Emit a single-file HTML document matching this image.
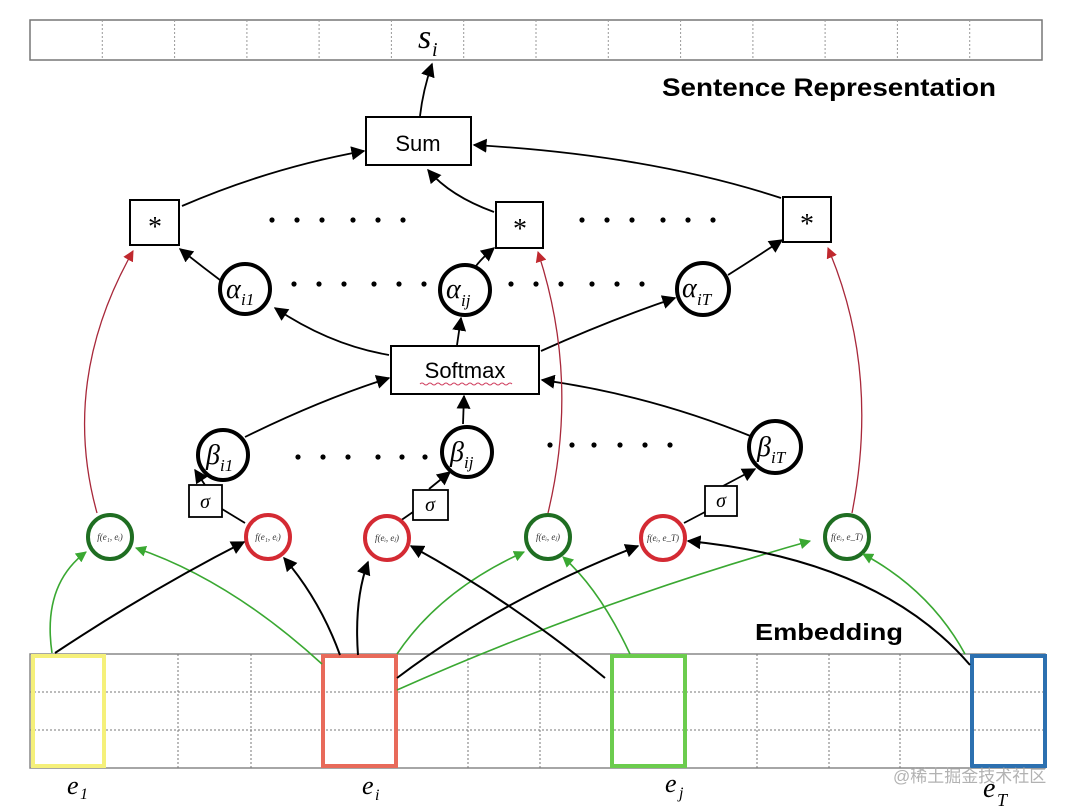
<!DOCTYPE html>
<html><head><meta charset="utf-8"><style>
html,body{margin:0;padding:0;background:#fff;}
svg{display:block;}
.m{font-family:"Liberation Serif",serif;font-style:italic;}
.s{font-family:"Liberation Sans",sans-serif;}
</style></head><body>
<svg width="1080" height="807" viewBox="0 0 1080 807" xmlns="http://www.w3.org/2000/svg">
<defs>
<marker id="abk" viewBox="0 0 10 10" refX="9" refY="5" markerWidth="14" markerHeight="14" orient="auto" markerUnits="userSpaceOnUse"><path d="M0,0 L10,5 L0,10 z" fill="#000"/></marker>
<marker id="ag" viewBox="0 0 10 10" refX="9" refY="5" markerWidth="11" markerHeight="11" orient="auto" markerUnits="userSpaceOnUse"><path d="M0,0 L10,5 L0,10 z" fill="#3aa832"/></marker>
<marker id="ar" viewBox="0 0 10 10" refX="9" refY="5" markerWidth="11" markerHeight="11" orient="auto" markerUnits="userSpaceOnUse"><path d="M0,0 L10,5 L0,10 z" fill="#c0282e"/></marker>
</defs>

<!-- top bar -->
<rect x="30" y="20" width="1012" height="40" fill="#fff" stroke="#777" stroke-width="1.5"/>
<g stroke="#999" stroke-dasharray="2,2" stroke-width="1">
<line x1="102.3" y1="20" x2="102.3" y2="60"/><line x1="174.6" y1="20" x2="174.6" y2="60"/><line x1="246.9" y1="20" x2="246.9" y2="60"/><line x1="319.1" y1="20" x2="319.1" y2="60"/><line x1="391.4" y1="20" x2="391.4" y2="60"/><line x1="463.7" y1="20" x2="463.7" y2="60"/><line x1="536" y1="20" x2="536" y2="60"/><line x1="608.3" y1="20" x2="608.3" y2="60"/><line x1="680.6" y1="20" x2="680.6" y2="60"/><line x1="752.9" y1="20" x2="752.9" y2="60"/><line x1="825.1" y1="20" x2="825.1" y2="60"/><line x1="897.4" y1="20" x2="897.4" y2="60"/><line x1="969.7" y1="20" x2="969.7" y2="60"/>
</g>
<text x="418" y="48" class="m" font-size="34">s</text><text x="432" y="56" class="m" font-size="20">i</text>
<text x="662" y="96" class="s" font-size="25" font-weight="bold" textLength="334" lengthAdjust="spacingAndGlyphs">Sentence Representation</text>

<!-- nodes -->
<g fill="#fff" stroke="#000">
<rect x="366" y="117" width="105" height="48" stroke-width="2"/>
<rect x="130" y="200" width="49" height="45" stroke-width="2"/>
<rect x="496" y="202" width="47" height="46" stroke-width="2"/>
<rect x="783" y="197" width="48" height="45" stroke-width="2"/>
<rect x="391" y="346" width="148" height="48" stroke-width="2"/>
<circle cx="245" cy="289" r="25" stroke-width="4"/>
<circle cx="465" cy="290" r="25" stroke-width="4"/>
<circle cx="703" cy="289" r="26" stroke-width="4"/>
<circle cx="223" cy="455" r="25" stroke-width="4"/>
<circle cx="467" cy="452" r="25" stroke-width="4"/>
<circle cx="775" cy="447" r="26" stroke-width="4"/>
<rect x="189" y="485" width="33" height="32" stroke-width="1.8"/>
<rect x="413" y="490" width="35" height="30" stroke-width="1.8"/>
<rect x="705" y="486" width="32" height="30" stroke-width="1.8"/>
</g>
<text x="418" y="151" class="s" font-size="22" text-anchor="middle">Sum</text>
<text x="465" y="378" class="s" font-size="22" text-anchor="middle">Softmax</text>
<path d="M420,384 q2,-2 4,0 t4,0 t4,0 t4,0 t4,0 t4,0 t4,0 t4,0 t4,0 t4,0 t4,0 t4,0 t4,0 t4,0 t4,0 t4,0 t4,0 t4,0 t4,0 t4,0 t4,0 t4,0 t4,0" fill="none" stroke="#d04060" stroke-width="1"/>
<g font-size="28" text-anchor="middle" font-family="Liberation Serif,serif">
<text x="155" y="236">*</text><text x="520" y="238">*</text><text x="807" y="233">*</text>
</g>
<g class="m">
<text x="226" y="298" font-size="28">α</text><text x="241" y="305" font-size="17">i1</text>
<text x="446" y="298" font-size="28">α</text><text x="461" y="306" font-size="17">ij</text>
<text x="682" y="297" font-size="28">α</text><text x="697" y="305" font-size="17">iT</text>
<text x="206" y="464" font-size="28">β</text><text x="220" y="471" font-size="17">i1</text>
<text x="450" y="461" font-size="28">β</text><text x="464" y="468" font-size="17">ij</text>
<text x="757" y="456" font-size="28">β</text><text x="771" y="463" font-size="17">iT</text>
<text x="205" y="508" font-size="20" text-anchor="middle">σ</text>
<text x="430" y="511" font-size="20" text-anchor="middle">σ</text>
<text x="721" y="507" font-size="20" text-anchor="middle">σ</text>
</g>

<!-- dots -->
<g fill="#000">
<circle cx="272" cy="220" r="2.6"/><circle cx="297" cy="220" r="2.6"/><circle cx="322" cy="220" r="2.6"/><circle cx="353" cy="220" r="2.6"/><circle cx="378" cy="220" r="2.6"/><circle cx="403" cy="220" r="2.6"/>
<circle cx="582" cy="220" r="2.6"/><circle cx="607" cy="220" r="2.6"/><circle cx="632" cy="220" r="2.6"/><circle cx="663" cy="220" r="2.6"/><circle cx="688" cy="220" r="2.6"/><circle cx="713" cy="220" r="2.6"/>
<circle cx="294" cy="284" r="2.6"/><circle cx="319" cy="284" r="2.6"/><circle cx="344" cy="284" r="2.6"/><circle cx="374" cy="284" r="2.6"/><circle cx="399" cy="284" r="2.6"/><circle cx="424" cy="284" r="2.6"/>
<circle cx="511" cy="284" r="2.6"/><circle cx="536" cy="284" r="2.6"/><circle cx="561" cy="284" r="2.6"/><circle cx="592" cy="284" r="2.6"/><circle cx="617" cy="284" r="2.6"/><circle cx="642" cy="284" r="2.6"/>
<circle cx="298" cy="457" r="2.6"/><circle cx="323" cy="457" r="2.6"/><circle cx="348" cy="457" r="2.6"/><circle cx="378" cy="457" r="2.6"/><circle cx="402" cy="457" r="2.6"/><circle cx="425" cy="457" r="2.6"/>
<circle cx="550" cy="445" r="2.6"/><circle cx="572" cy="445" r="2.6"/><circle cx="594" cy="445" r="2.6"/><circle cx="620" cy="445" r="2.6"/><circle cx="645" cy="445" r="2.6"/><circle cx="670" cy="445" r="2.6"/>
</g>

<!-- black edges upper -->
<g fill="none" stroke="#000" stroke-width="1.8" marker-end="url(#abk)">
<path d="M420,116 Q423,90 432,64"/>
<path d="M182,206 Q270,168 364,151"/>
<path d="M494,212 Q450,196 428,170"/>
<path d="M781,198 Q650,155 474,145"/>
<path d="M220,280 Q200,265 180,249"/>
<path d="M476,266 Q482,258 494,248"/>
<path d="M728,275 Q755,258 782,240"/>
<path d="M389,355 Q330,345 275,308"/>
<path d="M457,345 L461,318"/>
<path d="M541,351 Q610,320 675,298"/>
<path d="M245,437 Q320,400 389,378"/>
<path d="M463,424 L464,396"/>
<path d="M753,437 Q650,395 542,380"/>
<path d="M205,485 L195,470"/>
<path d="M429,489 L450,472"/>
<path d="M723,486 L755,469"/>
</g>
<g fill="none" stroke="#000" stroke-width="1.8">
<path d="M245,523 L222,509"/>
<path d="M400,521 L413,512"/>
<path d="M684,523 L705,512"/>
</g>

<!-- red thin curves -->
<g fill="none" stroke="#a8283a" stroke-width="1.3" marker-end="url(#ar)">
<path d="M97,513 Q60,380 133,251"/>
<path d="M548,513 Q580,380 538,252"/>
<path d="M852,513 Q880,370 828,248"/>
</g>

<!-- f circles -->
<g fill="#fff" stroke-width="4">
<circle cx="110" cy="537" r="22" stroke="#1f6e22"/>
<circle cx="268" cy="537" r="22" stroke="#d42a33"/>
<circle cx="387" cy="538" r="22" stroke="#d42a33"/>
<circle cx="548" cy="537" r="22" stroke="#1f6e22"/>
<circle cx="663" cy="538" r="22" stroke="#d42a33"/>
<circle cx="847" cy="537" r="22" stroke="#1f6e22"/>
</g>
<g class="m" font-size="9" text-anchor="middle" fill="#333">
<text x="110" y="540">f(e₁, eᵢ)</text>
<text x="268" y="540">f(e₁, eᵢ)</text>
<text x="387" y="541">f(eᵢ, eⱼ)</text>
<text x="548" y="540">f(eᵢ, eⱼ)</text>
<text x="663" y="541">f(eᵢ, e_T)</text>
<text x="847" y="540">f(eᵢ, e_T)</text>
</g>

<!-- bottom table -->
<rect x="30" y="654" width="1015" height="114" fill="#fff" stroke="#888" stroke-width="1.5"/>
<g stroke="#777" stroke-dasharray="2,2" stroke-width="1">
<line x1="30" y1="692" x2="1045" y2="692"/><line x1="30" y1="730" x2="1045" y2="730"/>
<line x1="105" y1="654" x2="105" y2="768"/><line x1="178" y1="654" x2="178" y2="768"/><line x1="251" y1="654" x2="251" y2="768"/><line x1="322" y1="654" x2="322" y2="768"/><line x1="397" y1="654" x2="397" y2="768"/><line x1="468" y1="654" x2="468" y2="768"/><line x1="540" y1="654" x2="540" y2="768"/><line x1="612" y1="654" x2="612" y2="768"/><line x1="686" y1="654" x2="686" y2="768"/><line x1="757" y1="654" x2="757" y2="768"/><line x1="829" y1="654" x2="829" y2="768"/><line x1="900" y1="654" x2="900" y2="768"/><line x1="972" y1="654" x2="972" y2="768"/>
</g>
<rect x="33" y="656" width="71" height="110" fill="none" stroke="#f5f07a" stroke-width="4"/>
<rect x="323" y="656" width="73" height="110" fill="none" stroke="#e86a5a" stroke-width="4"/>
<rect x="612" y="656" width="73" height="110" fill="none" stroke="#6ccc4e" stroke-width="4"/>
<rect x="972" y="656" width="73" height="110" fill="none" stroke="#2c70b0" stroke-width="4"/>

<text x="755" y="640" class="s" font-size="23" font-weight="bold" textLength="148" lengthAdjust="spacingAndGlyphs">Embedding</text>

<!-- bottom edges -->
<g fill="none" stroke="#3aa832" stroke-width="1.6" marker-end="url(#ag)">
<path d="M52,653 Q42,585 86,552"/>
<path d="M322,664 Q230,580 136,548"/>
<path d="M397,654 Q440,590 524,552"/>
<path d="M397,690 Q600,600 810,541"/>
<path d="M630,654 Q600,590 563,557"/>
<path d="M965,654 Q930,590 863,554"/>
</g>
<g fill="none" stroke="#000" stroke-width="2" marker-end="url(#abk)">
<path d="M55,653 Q150,590 244,542"/>
<path d="M340,655 Q320,600 284,558"/>
<path d="M358,655 Q354,600 368,562"/>
<path d="M397,678 Q500,600 638,546"/>
<path d="M605,678 Q510,600 411,546"/>
<path d="M970,665 Q880,560 688,541"/>
</g>

<!-- labels -->
<g class="m">
<text x="67" y="794" font-size="26">e</text><text x="80" y="799" font-size="16">1</text>
<text x="362" y="794" font-size="26">e</text><text x="375" y="800" font-size="16">i</text>
<text x="665" y="792" font-size="26">e</text><text x="679" y="798" font-size="16">j</text>
<text x="983" y="797" font-size="28">e</text><text x="997" y="806" font-size="18">T</text>
</g>
<text x="893" y="782" font-family="Liberation Sans,Noto Sans CJK SC,sans-serif" font-size="17" fill="#aaa" opacity="0.9">@稀土掘金技术社区</text>
</svg>
</body></html>
